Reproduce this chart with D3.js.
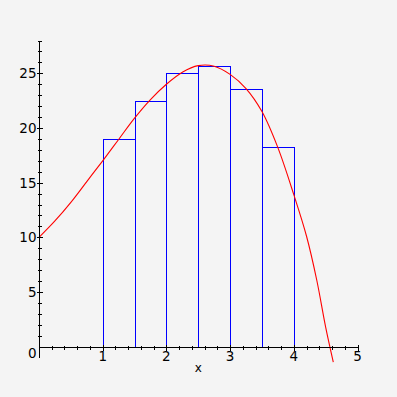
<!DOCTYPE html>
<html><head><meta charset="utf-8">
<script src="https://cdn.jsdelivr.net/npm/d3@7"></script>
<style>html,body{margin:0;padding:0;background:#f4f4f4;}svg{display:block;}</style>
</head><body>
<svg id="c" width="397" height="397"></svg>
<script>
const binEdges = [1, 1.5, 2, 2.5, 3, 3.5, 4];
const binHeights = [19.0, 22.5, 25.0, 25.7, 23.6, 18.25];
const curveX = [0, 0.25, 0.5, 0.75, 1, 1.25, 1.5, 1.75, 2, 2.25, 2.5, 2.75, 3, 3.25, 3.5, 3.75, 4, 4.2, 4.36, 4.5, 4.62];
const curveY = [10, 11.5, 13.2, 15.1, 17.0, 18.95, 20.9, 22.6, 24.0, 25.1, 25.7, 25.65, 24.9, 23.6, 21.5, 18.2, 13.9, 10.1, 6.1, 1.8, -1.4];
const xTickLabels = ["1", "2", "3", "4", "5"];
const yTickLabels = ["5", "10", "15", "20", "25"];

const svg = d3.select("#c");
svg.append("rect").attr("width",397).attr("height",397).attr("fill","#f4f4f4");
const x = d3.scaleLinear().domain([0,5]).range([39,357.5]);
const y = d3.scaleLinear().domain([0,28]).range([346.7,40.5]);
const px = v => Math.round(v) + 0.5;

// bars
const bars = binHeights.map((h,i)=>({x0:binEdges[i], x1:binEdges[i+1], h}));
svg.append("g").selectAll("rect").data(bars).join("rect")
  .attr("x", d=>px(x(d.x0))).attr("y", d=>px(y(d.h)))
  .attr("width", d=>px(x(d.x1))-px(x(d.x0)))
  .attr("height", d=>px(y(0))-px(y(d.h)))
  .attr("fill","none").attr("stroke","#0000ff").attr("stroke-width",1)
  .attr("shape-rendering","crispEdges");

// curve
const pts = curveX.map((v,i)=>[v,curveY[i]]);
svg.append("path").datum(pts)
  .attr("d", d3.line().x(d=>x(d[0])).y(d=>y(d[1])).curve(d3.curveCatmullRom.alpha(0.5)))
  .attr("fill","none").attr("stroke","#ff0000").attr("stroke-width",1.1);

// axes
const ax = svg.append("g").attr("stroke","#000").attr("shape-rendering","crispEdges");
const x0 = px(x(0)), y0 = px(y(0));
ax.append("line").attr("x1",x0).attr("x2",px(x(5))).attr("y1",y0).attr("y2",y0);
ax.append("line").attr("x1",x0).attr("x2",x0).attr("y1",px(y(28))).attr("y2",358);
// x ticks
d3.range(1,26).forEach(i=>{
  const v=i*0.2, major = i%5===0;
  const xx = px(x(v));
  ax.append("line").attr("x1",xx).attr("x2",xx)
    .attr("y1", y0-(major?3:2)).attr("y2", y0+(major?3:2));
});
// y ticks
d3.range(1,29).forEach(v=>{
  const major = v%5===0;
  const yy = px(y(v));
  ax.append("line").attr("y1",yy).attr("y2",yy)
    .attr("x1", x0-(major?3:2)).attr("x2", x0+(major?3:2));
});

const font = "DejaVu Sans, sans-serif";
svg.append("g").selectAll("text").data(xTickLabels).join("text")
  .attr("x", d=>x(+d)).attr("y", 361).attr("text-anchor","middle")
  .attr("font-family",font).attr("font-size",13.5).attr("fill","#000").text(d=>d);
svg.append("g").selectAll("text").data(yTickLabels).join("text")
  .attr("x", 36.5).attr("y", d=>y(+d)+5).attr("text-anchor","end")
  .attr("font-family",font).attr("font-size",13.5).attr("fill","#000").text(d=>d);
svg.append("text").attr("x",36.5).attr("y",358).attr("text-anchor","end")
  .attr("font-family",font).attr("font-size",13.5).text("0");
svg.append("text").attr("x",x(2.5)).attr("y",372).attr("text-anchor","middle")
  .attr("font-family",font).attr("font-size",12).text("x");
</script>
</body></html>
